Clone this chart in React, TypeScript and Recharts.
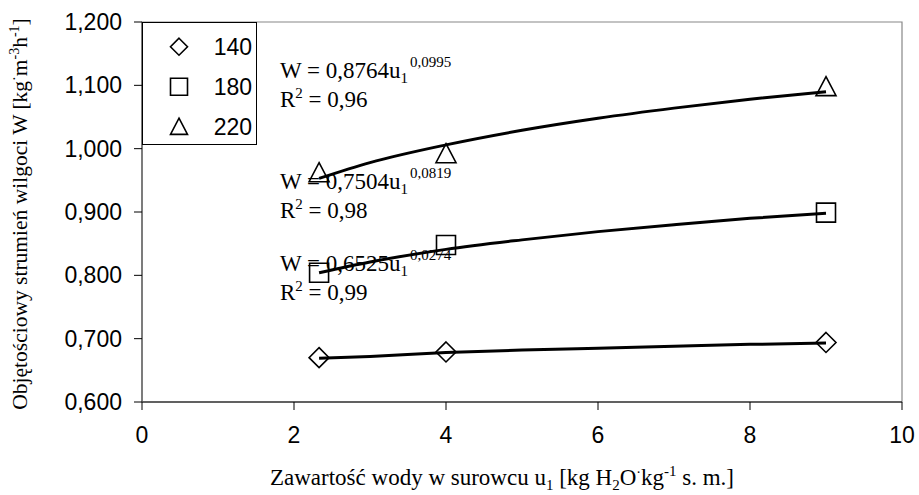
import {
  ComposedChart,
  Scatter,
  Line,
  XAxis,
  YAxis,
  ReferenceArea,
  Legend,
} from 'recharts';

// moisture content u1 of the three measured points
const moisture = [2.33, 4, 9];
const w140 = [0.67, 0.679, 0.694];
const w180 = [0.804, 0.848, 0.899];
const w220 = [0.962, 0.992, 1.098];

// power trend lines
const trendU = [2.33, 3, 4, 5, 6, 7, 8, 9];
const trend140 = [0.669, 0.672, 0.678, 0.682, 0.685, 0.688, 0.691, 0.693];
const trend180 = [0.804, 0.821, 0.841, 0.856, 0.869, 0.88, 0.89, 0.898];
const trend220 = [0.953, 0.978, 1.006, 1.029, 1.048, 1.064, 1.078, 1.09];

const xTicks = [0, 2, 4, 6, 8, 10];
const yTicks = [0.6, 0.7, 0.8, 0.9, 1.0, 1.1, 1.2];

const seriesNames = ['140', '180', '220'];
const equations = [
  { coef: '0,8764', exp: '0,0995', r2: '0,96' },
  { coef: '0,7504', exp: '0,0819', r2: '0,98' },
  { coef: '0,6525', exp: '0,0274', r2: '0,99' },
];

const toPoints = (xs: number[], ys: number[]) => xs.map((x, i) => ({ x, y: ys[i] }));

const SANS = '"Liberation Sans", Arial, sans-serif';
const SERIF = '"Liberation Serif", "Times New Roman", serif';

type Kind = 'diamond' | 'square' | 'triangle';
const kinds: Kind[] = ['diamond', 'square', 'triangle'];

const markerPath = (kind: Kind, cx: number, cy: number, s: number) => {
  if (kind === 'diamond') return `M${cx},${cy - s}L${cx + s},${cy}L${cx},${cy + s}L${cx - s},${cy}Z`;
  if (kind === 'square') return `M${cx - s},${cy - s}H${cx + s}V${cy + s}H${cx - s}Z`;
  return `M${cx},${cy - s}L${cx + s},${cy + s * 0.9}L${cx - s},${cy + s * 0.9}Z`;
};

const makeShape = (kind: Kind, s: number) => (props: any) => {
  const { cx, cy } = props;
  if (cx == null || cy == null) return <g />;
  return <path d={markerPath(kind, cx, cy, s)} fill="none" stroke="#000" strokeWidth={1.6} />;
};

const LegendBox = () => (
  <div style={{ width: 115, height: 123, border: '1px solid #000', boxSizing: 'border-box', background: '#fff' }}>
    <svg width={113} height={121}>
      {seriesNames.map((name, i) => {
        const cy = 23.7 + i * 40;
        return (
          <g key={name}>
            <path d={markerPath(kinds[i], 36, cy, 8.5)} fill="none" stroke="#000" strokeWidth={1.6} />
            <text x={109} y={cy} dy="0.36em" textAnchor="end" fontFamily={SANS} fontSize={23} fill="#000">
              {name}
            </text>
          </g>
        );
      })}
    </svg>
  </div>
);

const Equation = ({ y, coef, exp, r2 }: { y: number; coef: string; exp: string; r2: string }) => (
  <g fontFamily={SERIF} fontSize={23} fill="#000">
    <text x={280} y={y}>
      {`W = ${coef}u`}
      <tspan fontSize={15} dy={5}>1</tspan>
      <tspan fontSize={15} dx={2} dy={-16}>{exp}</tspan>
    </text>
    <text x={280} y={y + 29}>
      R<tspan fontSize={15} dy={-9}>2</tspan>
      <tspan dy={9}> = {r2}</tspan>
    </text>
  </g>
);

export default function App() {
  const eqBaselines = [78, 189, 270.5];
  return (
    <div style={{ position: 'absolute', left: 0, top: 0, width: 919, height: 495, background: '#fff' }}>
      <ComposedChart width={919} height={495} margin={{ top: 22, right: 17, bottom: 33, left: 0 }}>
        <XAxis
          type="number"
          dataKey="x"
          domain={[0, 10]}
          ticks={xTicks}
          allowDataOverflow
          height={60}
          tickSize={8}
          tickMargin={17}
          axisLine={{ stroke: '#000', strokeWidth: 1.2 }}
          tickLine={{ stroke: '#000' }}
          tick={{ fill: '#000', fontSize: 23, fontFamily: SANS }}
        />
        <YAxis
          type="number"
          dataKey="y"
          domain={[0.6, 1.2]}
          ticks={yTicks}
          allowDataOverflow
          width={142}
          tickSize={8}
          tickMargin={12}
          tickFormatter={(v: number) => v.toFixed(3).replace('.', ',')}
          axisLine={{ stroke: '#555', strokeWidth: 1.2 }}
          tickLine={{ stroke: '#000' }}
          tick={{ fill: '#000', fontSize: 23, fontFamily: SANS }}
        />
        <ReferenceArea x1={0} x2={10} y1={0.6} y2={1.2} fill="none" stroke="#888" strokeWidth={1.2} ifOverflow="visible" />
        <Legend
          layout="vertical"
          align="center"
          verticalAlign="middle"
          wrapperStyle={{ left: 142, top: 22, width: 115, height: 123 }}
          content={() => <LegendBox />}
        />
        <Scatter name="140" data={toPoints(moisture, w140)} shape={makeShape('diamond', 10)} isAnimationActive={false} />
        <Scatter name="180" data={toPoints(moisture, w180)} shape={makeShape('square', 9.5)} isAnimationActive={false} />
        <Scatter name="220" data={toPoints(moisture, w220)} shape={makeShape('triangle', 10)} isAnimationActive={false} />
        <Line data={toPoints(trendU, trend140)} dataKey="y" type="monotone" stroke="#000" strokeWidth={3} dot={false} legendType="none" isAnimationActive={false} />
        <Line data={toPoints(trendU, trend180)} dataKey="y" type="monotone" stroke="#000" strokeWidth={3} dot={false} legendType="none" isAnimationActive={false} />
        <Line data={toPoints(trendU, trend220)} dataKey="y" type="monotone" stroke="#000" strokeWidth={3} dot={false} legendType="none" isAnimationActive={false} />
      </ComposedChart>
      <svg width={919} height={495} style={{ position: 'absolute', left: 0, top: 0, pointerEvents: 'none' }}>
        {equations.map((eq, i) => (
          <Equation key={eq.coef} y={eqBaselines[i]} coef={eq.coef} exp={eq.exp} r2={eq.r2} />
        ))}
        <text
          x={27}
          y={214}
          transform="rotate(-90 27 214)"
          textAnchor="middle"
          fontFamily={SERIF}
          fontSize={21.5}
          fill="#000"
        >
          Objętościowy strumień wilgoci W [kg<tspan fontSize={14} dy={-8}>·</tspan>
          <tspan dy={8}>m</tspan>
          <tspan fontSize={14} dy={-8}>-3</tspan>
          <tspan dy={8}>h</tspan>
          <tspan fontSize={14} dy={-8}>-1</tspan>
          <tspan dy={8}>]</tspan>
        </text>
        <text x={502} y={485} textAnchor="middle" fontFamily={SERIF} fontSize={23} fill="#000">
          Zawartość wody w surowcu u<tspan fontSize={15} dy={5}>1</tspan>
          <tspan dy={-5}> [kg H</tspan>
          <tspan fontSize={15} dy={5}>2</tspan>
          <tspan dy={-5}>O</tspan>
          <tspan fontSize={14} dy={-8}>·</tspan>
          <tspan dy={8}>kg</tspan>
          <tspan fontSize={15} dy={-9}>-1</tspan>
          <tspan dy={9}> s. m.]</tspan>
        </text>
      </svg>
    </div>
  );
}
